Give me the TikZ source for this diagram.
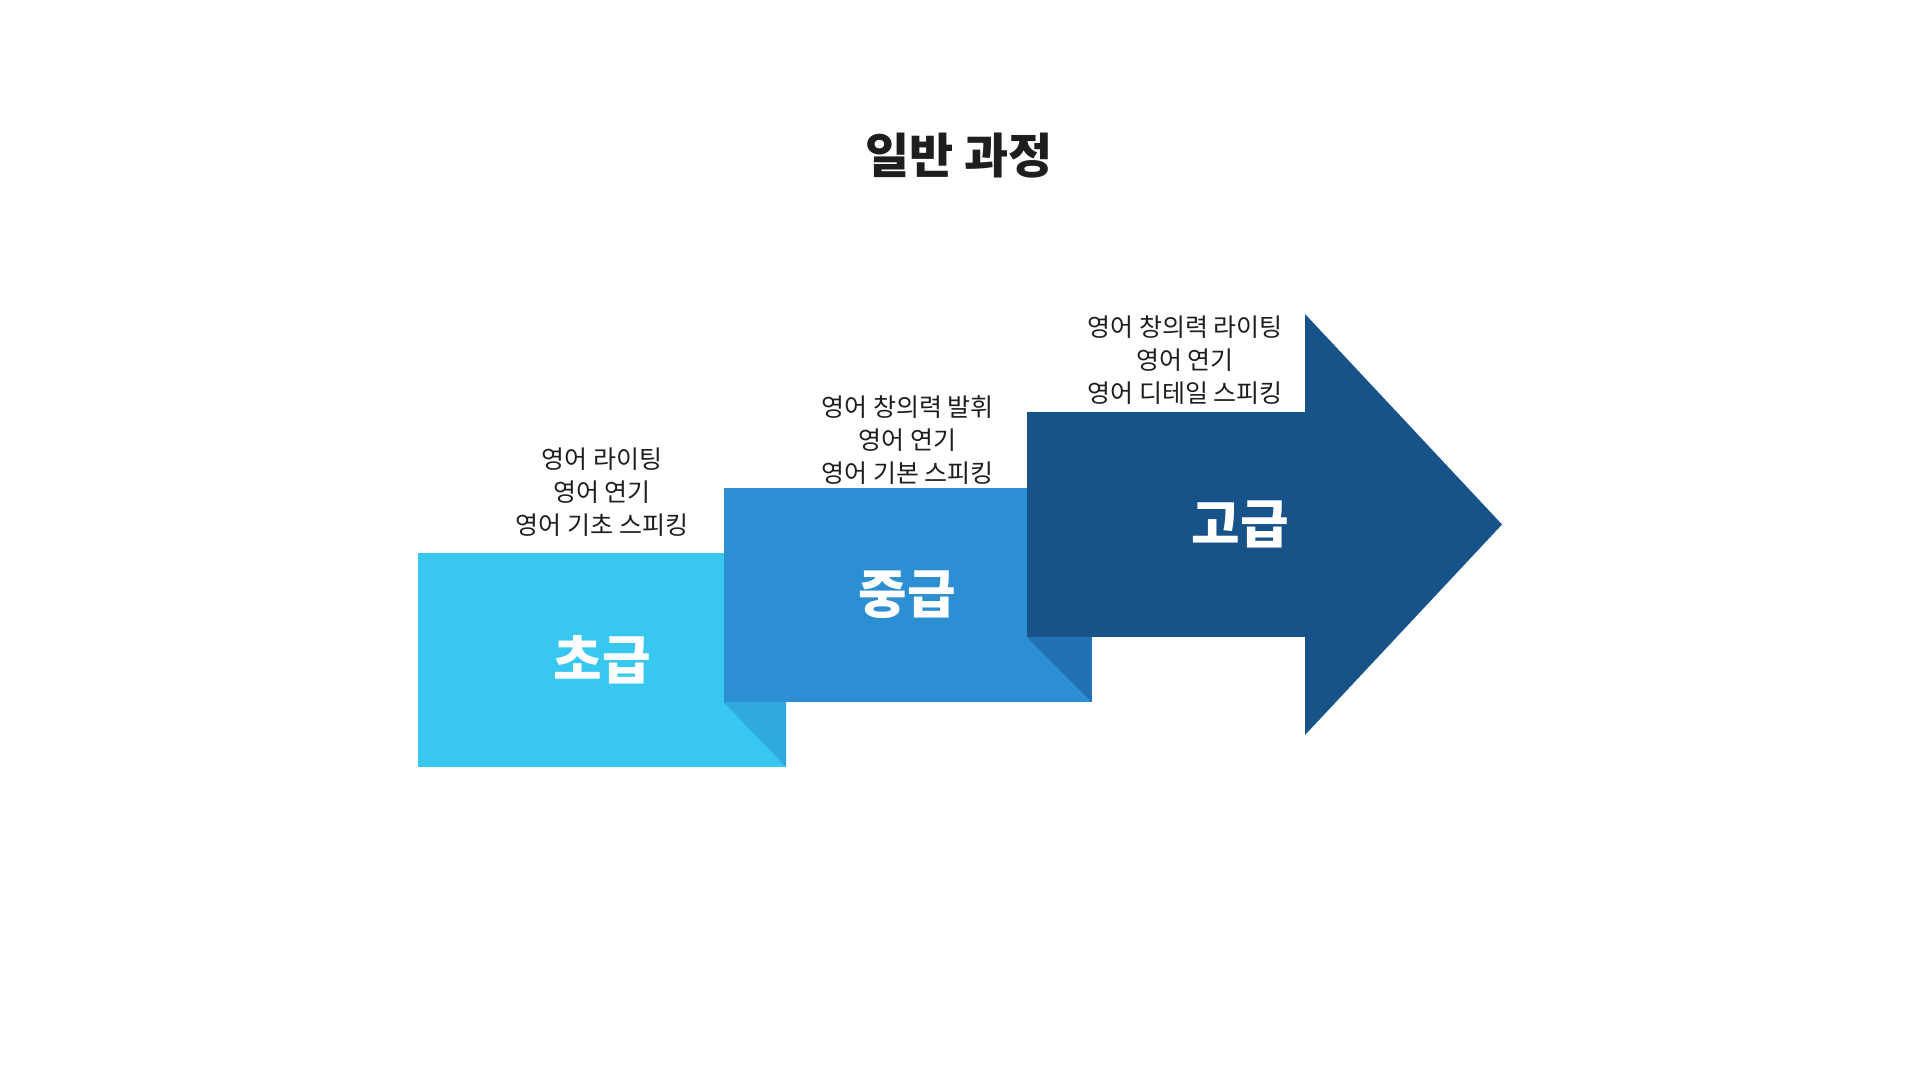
\documentclass[tikz,border=0pt]{standalone}
\usepackage{fontspec}
\setmainfont{Noto Sans CJK KR}
\usetikzlibrary{positioning,calc}

\definecolor{lowblue}{HTML}{38C8EF}
\definecolor{lowfold}{HTML}{2EAAE1}
\definecolor{midblue}{HTML}{2C8FD3}
\definecolor{midfold}{HTML}{2271B5}
\definecolor{highblue}{HTML}{175389}
\definecolor{inkgray}{HTML}{1E1E1E}

\begin{document}
\begin{tikzpicture}[x=0.5pt,y=-0.5pt,
    level/.style={inner sep=0pt, outer sep=0pt, minimum width=184pt, minimum height=107pt},
    grade/.style={text=white, font=\bfseries\fontsize{26.4}{30}\selectfont},
    topics/.style={align=center, text=inkgray, inner sep=0pt, font=\fontsize{12.5}{16.5}\selectfont},
    heading/.style={text=inkgray, font=\bfseries\fontsize{24}{28}\selectfont}]
        \fill[white] (0,0) rectangle (1920,1080);
        \useasboundingbox (0,0) rectangle (1920,1080);
        \node[heading] (title) at (959,156) {일반 과정};
        % steps
        \node[level, fill=lowblue] (b1) at (602,660) {};
        \node[level, fill=midblue] (b2) at (907.5,595) {};
        \node[level, fill=highblue, minimum width=139pt, minimum height=112.5pt] (b3) at (1166,524.5) {};
        \coordinate (tip) at (1502,524.5);
        \fill[highblue] (b3.north east) -- ++(0,-98) -- (tip) -- ($(b3.south east)+(0,98)$) -- cycle;
        % folds
        \fill[lowfold] (b2.south west) -- (b2.south west -| b1.east) -- (b1.south east) -- cycle;
        \fill[midfold] (b3.south west) -- (b3.south west -| b2.east) -- (b2.south east) -- cycle;
        % labels
        \node[grade] (low) at (b1) {초급};
        \node[grade] (mid) at (b2) {중급};
        \node[grade, xshift=37pt] (high) at (b3) {고급};
        \node[topics, above=8pt of b1] (t1) {영어 라이팅\\영어 연기\\영어 기초 스피킹};
        \node[topics, above=1.5pt of b2] (t2) {영어 창의력 발휘\\영어 연기\\영어 기본 스피킹};
        \node[topics, above=3.5pt of b3, xshift=9.5pt] (t3) {영어 창의력 라이팅\\영어 연기\\영어 디테일 스피킹};
\end{tikzpicture}
\end{document}
